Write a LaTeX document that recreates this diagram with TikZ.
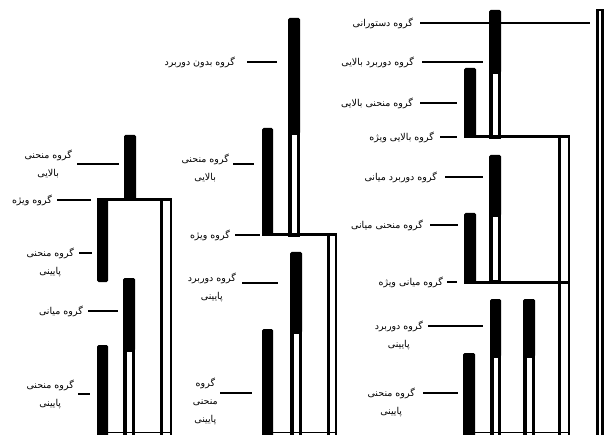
\documentclass[tikz,border=0pt]{standalone}
\usepackage{fontspec}
\newfontfamily\fafont[Script=Arabic]{DejaVu Sans}
\TeXXeTstate=1
\newcommand{\fa}[1]{\beginR #1\endR}
\usetikzlibrary{positioning}

\begin{document}
\begin{tikzpicture}[x=1pt,y=-1pt,
  grp/.style={font=\fafont\fontsize{9.5}{18}\selectfont,align=center,inner sep=0pt},
  lead/.style={line width=1.1pt},
  joinline/.style={line width=3pt},
  tube/.style={line width=3.5pt},
  pipe/.style={line width=2.5pt},
  blk/.style={fill=black,rounded corners=1.5pt},
  base/.style={line width=0.8pt},
]
\useasboundingbox (0,0) rectangle (604,435);

% ---- column 1 ----
\fill[blk] (124,135) rectangle (136,201);
\draw[joinline] (97,200) -- (172,200);
\fill[blk] (97,199) rectangle (108,282);
\draw[tube] (124.75,350) rectangle (133.25,440);
\fill[blk] (123,278) rectangle (135,351);
\fill[blk] (97,345) rectangle (108,440);
\draw[pipe] (161.25,200) rectangle (170.75,440);
\draw[base] (97,432) -- (172,432);

% ---- column 2 ----
\draw[tube] (289.75,133) rectangle (298.25,235);
\fill[blk] (288,18) rectangle (300,134);
\fill[blk] (262,128) rectangle (273,236);
\draw[joinline] (262,235) -- (337,235);
\draw[pipe] (328.25,235) rectangle (335.75,440);
\draw[tube] (291.75,332) rectangle (300.25,440);
\fill[blk] (290,252) rectangle (302,333);
\fill[blk] (262,329) rectangle (273,440);
\draw[base] (262,432) -- (337,432);

% ---- column 3 ----
\draw[tube] (490.75,72) rectangle (499.25,137);
\fill[blk] (489,10) rectangle (501,73);
\fill[blk] (464,68) rectangle (476,138);
\draw[joinline] (464,137) -- (570,137);
\draw[pipe] (559.25,137) rectangle (568.75,440);
\draw[tube] (490.75,215) rectangle (499.25,282);
\fill[blk] (489,155) rectangle (501,216);
\fill[blk] (464,213) rectangle (476,283);
\draw[joinline] (464,282) -- (568,282);
\draw[tube] (491.75,356) rectangle (499.25,440);
\fill[blk] (490,299) rectangle (501,357);
\draw[tube] (524.75,356) rectangle (533.25,440);
\fill[blk] (523,299) rectangle (535,357);
\fill[blk] (463,353) rectangle (475,440);
\draw[base] (463,432) -- (570,432);

% right frame
\draw[pipe] (597.5,10) rectangle (602.5,440);

% ---- labels, column 1 ----
\coordinate (a1s) at (77,164);  \coordinate (a1e) at (119,164);
\node[grp,left=5pt of a1s] (a1) {\fa{گروه منحنی}\\\fa{بالایی}};
\draw[lead] (a1s) -- (a1e);
\coordinate (a2s) at (57,200);  \coordinate (a2e) at (91,200);
\node[grp,left=5pt of a2s] (a2) {\fa{گروه ویژه}};
\draw[lead] (a2s) -- (a2e);
\coordinate (a3s) at (79,253);  \coordinate (a3e) at (92,253);
\node[grp,left=5pt of a3s,yshift=-9pt] (a3) {\fa{گروه منحنی}\\\fa{پایینی}};
\draw[lead] (a3s) -- (a3e);
\coordinate (a4s) at (88,311);  \coordinate (a4e) at (118,311);
\node[grp,left=5pt of a4s] (a4) {\fa{گروه میانی}};
\draw[lead] (a4s) -- (a4e);
\coordinate (a5s) at (78,394);  \coordinate (a5e) at (90,394);
\node[grp,left=4pt of a5s] (a5) {\fa{گروه منحنی}\\\fa{پایینی}};
\draw[lead] (a5s) -- (a5e);

% ---- labels, column 2 ----
\coordinate (b1s) at (247,62);  \coordinate (b1e) at (277,62);
\node[grp,left=12pt of b1s] (b1) {\fa{گروه بدون دوربرد}};
\draw[lead] (b1s) -- (b1e);
\coordinate (b2s) at (233,164); \coordinate (b2e) at (254,164);
\node[grp,left=4pt of b2s,yshift=-4pt] (b2) {\fa{گروه منحنی}\\\fa{بالایی}};
\draw[lead] (b2s) -- (b2e);
\coordinate (b3s) at (235,235); \coordinate (b3e) at (260,235);
\node[grp,left=5pt of b3s] (b3) {\fa{گروه ویژه}};
\draw[lead] (b3s) -- (b3e);
\coordinate (b4s) at (242,283); \coordinate (b4e) at (278,283);
\node[grp,left=6pt of b4s,yshift=-4pt] (b4) {\fa{گروه دوربرد}\\\fa{پایینی}};
\draw[lead] (b4s) -- (b4e);
\coordinate (b5s) at (220,393); \coordinate (b5e) at (252,393);
\node[grp,left=2pt of b5s,yshift=-8pt] (b5) {\fa{گروه}\\\fa{منحنی}\\\fa{پایینی}};
\draw[lead] (b5s) -- (b5e);

% ---- labels, column 3 ----
\coordinate (c1s) at (420,23);  \coordinate (c1e) at (590,23);
\node[grp,left=7pt of c1s] (c1) {\fa{گروه دستورانی}};
\draw[lead] (c1s) -- (c1e);
\coordinate (c2s) at (422,62);  \coordinate (c2e) at (483,62);
\node[grp,left=8pt of c2s] (c2) {\fa{گروه دوربرد بالایی}};
\draw[lead] (c2s) -- (c2e);
\coordinate (c3s) at (420,103); \coordinate (c3e) at (457,103);
\node[grp,left=7pt of c3s] (c3) {\fa{گروه منحنی بالایی}};
\draw[lead] (c3s) -- (c3e);
\coordinate (c4s) at (440,137); \coordinate (c4e) at (457,137);
\node[grp,left=6pt of c4s] (c4) {\fa{گروه بالایی ویژه}};
\draw[lead] (c4s) -- (c4e);
\coordinate (c5s) at (445,177); \coordinate (c5e) at (483,177);
\node[grp,left=8pt of c5s] (c5) {\fa{گروه دوربرد میانی}};
\draw[lead] (c5s) -- (c5e);
\coordinate (c6s) at (430,225); \coordinate (c6e) at (458,225);
\node[grp,left=7pt of c6s] (c6) {\fa{گروه منحنی میانی}};
\draw[lead] (c6s) -- (c6e);
\coordinate (c7s) at (447,282); \coordinate (c7e) at (457,282);
\node[grp,left=4pt of c7s] (c7) {\fa{گروه میانی ویژه}};
\draw[lead] (c7s) -- (c7e);
\coordinate (c8s) at (428,326); \coordinate (c8e) at (483,326);
\node[grp,left=5pt of c8s,yshift=-9pt] (c8) {\fa{گروه دوربرد}\\\fa{پایینی}};
\draw[lead] (c8s) -- (c8e);
\coordinate (c9s) at (423,393); \coordinate (c9e) at (458,393);
\node[grp,left=8pt of c9s,yshift=-9pt] (c9) {\fa{گروه منحنی}\\\fa{پایینی}};
\draw[lead] (c9s) -- (c9e);

\end{tikzpicture}
\end{document}
